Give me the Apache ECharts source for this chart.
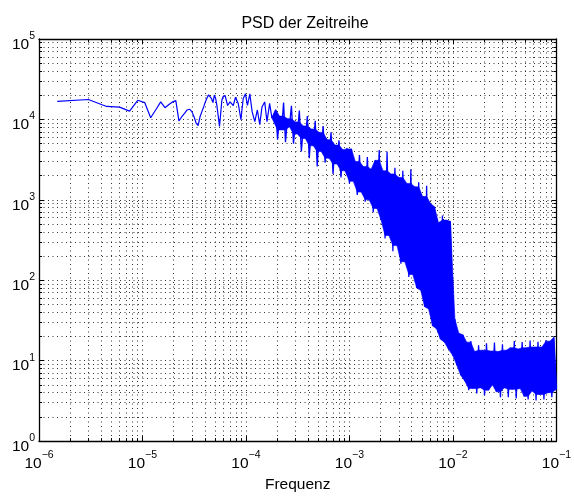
<!DOCTYPE html>
<html>
<head>
<meta charset="utf-8">
<title>PSD der Zeitreihe</title>
<script src="https://cdn.jsdelivr.net/npm/echarts@6/dist/echarts.min.js"></script>
<style>
  html, body { margin: 0; padding: 0; background: #ffffff; }
  #chart { width: 574px; height: 498px; }
</style>
</head>
<body>
<div id="chart"></div>
<script>
// Axis decades (exponents of ten shown as tick labels)
const xTickExponents = [-6, -5, -4, -3, -2, -1];
const yTickExponents = [0, 1, 2, 3, 4, 5];

// Low-frequency part of the spectrum: individual bins
const lowFreq = [
  1.5e-6, 3.0e-6, 4.5e-6, 6.0e-6, 7.5e-6, 9.0e-6, 1.05e-5, 1.2e-5, 1.35e-5, 1.5e-5,
  1.65e-5, 1.8e-5, 1.95e-5, 2.1e-5, 2.25e-5, 2.4e-5, 2.55e-5, 2.7e-5, 2.85e-5, 3.0e-5,
  3.15e-5, 3.3e-5, 3.45e-5, 3.6e-5, 3.75e-5, 3.9e-5, 4.05e-5, 4.2e-5, 4.35e-5, 4.5e-5,
  4.65e-5, 4.8e-5, 4.95e-5, 5.1e-5, 5.25e-5, 5.4e-5, 5.55e-5, 5.7e-5, 5.85e-5, 6.0e-5,
  6.28e-5, 6.65e-5, 7.01e-5, 7.54e-5, 7.93e-5, 8.42e-5, 8.94e-5, 9.40e-5, 9.89e-5, 1.034e-4,
  1.090e-4, 1.147e-4, 1.217e-4, 1.289e-4, 1.359e-4, 1.429e-4, 1.517e-4, 1.596e-4, 1.694e-4, 1.782e-4
];
const lowPsd = [
  16800, 17700, 14500, 14200, 12700, 17300, 16200, 10500, 13300, 16500,
  14000, 15300, 16500, 17100, 9600, 10800, 11900, 13100, 13400, 12500,
  10800, 9000, 8400, 10800, 12500, 14300, 16500, 18500, 20200, 19700,
  18100, 16200, 20100, 18100, 14500, 10900, 8200, 11900, 17300, 19100,
  19900, 14900, 16500, 14900, 18900, 15800, 9900, 18100, 20800, 14900,
  20800, 12500, 9400, 13100, 8600, 14300, 16500, 9400, 15800, 10400
];

// Dense part of the spectrum, 1.9e-4 ... 1e-3
const midFreq = [
  1.94e-4, 2.02e-4, 2.11e-4, 2.21e-4, 2.31e-4, 2.41e-4, 2.52e-4, 2.63e-4, 2.75e-4, 2.88e-4,
  3.01e-4, 3.14e-4, 3.28e-4, 3.43e-4, 3.59e-4, 3.75e-4, 3.92e-4, 4.09e-4, 4.28e-4, 4.47e-4,
  4.67e-4, 4.88e-4, 5.10e-4, 5.33e-4, 5.57e-4, 5.82e-4, 6.08e-4, 6.36e-4, 6.64e-4, 6.94e-4,
  7.25e-4, 7.58e-4, 7.92e-4, 8.28e-4, 8.65e-4, 9.04e-4, 9.45e-4
];
const midPsd = [
  13200, 5600, 11000, 7400, 16200, 5200, 10200, 8100, 14800, 5000,
  9300, 6600, 12900, 4000, 8300, 5800, 11000, 3300, 7600, 4700,
  9600, 2600, 6900, 4000, 8300, 2900, 5600, 3300, 6900, 2100,
  4800, 2800, 5500, 1900, 4200, 2300, 4400
];

// 1e-3 ... 1e-2: steep roll-off ending in the edge just below 1e-2
const highFreq = [
  1.00e-3, 1.045e-3, 1.09e-3, 1.14e-3, 1.19e-3, 1.25e-3, 1.30e-3, 1.36e-3, 1.42e-3, 1.49e-3,
  1.55e-3, 1.62e-3, 1.70e-3, 1.77e-3, 1.85e-3, 1.94e-3, 2.02e-3, 2.11e-3, 2.21e-3, 2.31e-3,
  2.41e-3, 2.52e-3, 2.63e-3, 2.75e-3, 2.88e-3, 3.01e-3, 3.14e-3, 3.28e-3, 3.43e-3, 3.59e-3,
  3.75e-3, 3.92e-3, 4.09e-3, 4.28e-3, 4.47e-3, 4.67e-3, 4.88e-3, 5.10e-3, 5.33e-3, 5.57e-3,
  5.82e-3, 6.08e-3, 6.36e-3, 6.64e-3, 6.94e-3, 7.25e-3, 7.58e-3, 7.92e-3, 8.28e-3, 8.65e-3,
  9.04e-3, 9.45e-3
];
const highPsd = [
  1600, 4300, 1700, 3000, 1150, 3600, 1250, 2600, 950, 3400,
  1000, 2400, 700, 3100, 780, 4170, 560, 2300, 330, 3980,
  360, 2100, 230, 2500, 270, 1900, 160, 2300, 170, 1600,
  110, 2400, 118, 1450, 80, 1650, 75, 1100, 47, 1500,
  44, 900, 27, 820, 25, 520, 18.5, 640, 17, 560,
  14, 540
];

// 1e-2 ... 1e-1: noise floor
const floorFreq = [
  1.00e-2, 1.045e-2, 1.09e-2, 1.14e-2, 1.19e-2, 1.25e-2, 1.30e-2, 1.36e-2, 1.42e-2, 1.49e-2,
  1.55e-2, 1.62e-2, 1.70e-2, 1.77e-2, 1.85e-2, 1.94e-2, 2.02e-2, 2.11e-2, 2.21e-2, 2.31e-2,
  2.41e-2, 2.52e-2, 2.63e-2, 2.75e-2, 2.88e-2, 3.01e-2, 3.14e-2, 3.28e-2, 3.43e-2, 3.59e-2,
  3.75e-2, 3.92e-2, 4.09e-2, 4.28e-2, 4.47e-2, 4.67e-2, 4.88e-2, 5.10e-2, 5.33e-2, 5.57e-2,
  5.82e-2, 6.08e-2, 6.36e-2, 6.64e-2, 6.94e-2, 7.25e-2, 7.58e-2, 7.92e-2, 8.28e-2, 8.65e-2,
  9.04e-2, 9.45e-2, 1.00e-1
];
const floorPsd = [
  11.5, 33, 8.8, 22, 6.6, 21, 5.6, 17, 4.3, 17.5,
  4.5, 13.0, 3.9, 15.5, 4.6, 13.5, 3.7, 16.5, 4.3, 13.2,
  5.0, 16.8, 4.1, 13.0, 3.5, 16.0, 4.6, 13.5, 3.5, 14.5,
  4.4, 17.5, 3.4, 14.0, 4.5, 17.0, 3.6, 14.5, 3.3, 17.8,
  4.2, 14.8, 3.2, 17.2, 3.8, 14.8, 3.3, 18.0, 4.0, 17.5,
  3.5, 19.5, 4.4
];

const FONT = 'Liberation Sans, Arial, Helvetica, sans-serif';
const BLUE = '#0000ff';

function pairs(fs, ps) { return fs.map((f, i) => [f, ps[i]]); }

const sparseData = pairs(lowFreq, lowPsd);
const denseData = [sparseData[sparseData.length - 1]]
  .concat(pairs(midFreq, midPsd), pairs(highFreq, highPsd), pairs(floorFreq, floorPsd));

// Solid core of the dense band, outlined by the peaks and troughs of the
// dense trace. Each peak is limited to the median of itself and its two
// neighbouring peaks (troughs likewise), so single spikes stay visible as
// thin lines sticking out of the band.
function median3(a, b, c) { return Math.max(Math.min(a, b), Math.min(Math.max(a, b), c)); }
function bandOutline(points) {
  const peaks = [], troughs = [];
  for (let i = 0; i < points.length; i++) {
    const v = points[i][1];
    const prev = i > 0 ? points[i - 1][1] : null;
    const next = i < points.length - 1 ? points[i + 1][1] : null;
    const isPeak = (prev === null || v >= prev) && (next === null || v >= next);
    (isPeak ? peaks : troughs).push(points[i]);
  }
  const trim = (list, clip) => list.map((p, j) => {
    const a = j > 0 ? list[j - 1][1] : p[1];
    const c = j < list.length - 1 ? list[j + 1][1] : p[1];
    return [p[0], clip(p[1], median3(a, p[1], c))];
  });
  const upper = trim(peaks, Math.min);
  const lower = trim(troughs, Math.max);
  return upper.concat(lower.slice().reverse());
}
const bandPoints = bandOutline(denseData);

function powLabel(exps) {
  return function (v) {
    const lv = Math.log10(v);
    const e = exps.find(x => Math.abs(x - lv) < 1e-6);
    return e === undefined ? '' : '{b|10}{e|' + (e < 0 ? '\u2212' + (-e) : e) + '}';
  };
}

const rich = {
  b: { fontSize: 15.5, fontFamily: FONT, color: '#000', lineHeight: 22, verticalAlign: 'bottom' },
  e: { fontSize: 10.5, fontFamily: FONT, color: '#000', lineHeight: 8, verticalAlign: 'top' }
};

const dotted = { color: '#000', width: 1, type: [1, 3.5], opacity: 0.8 };

function logAxis(min, max, position, exps, showLabel, showGrid) {
  return {
    type: 'log',
    logBase: 10,
    min: min,
    max: max,
    position: position,
    axisLine: { show: true, onZero: false, lineStyle: { color: '#000', width: 1.3 } },
    axisTick: { show: true, inside: true, length: 5, lineStyle: { color: '#000', width: 1 } },
    minorTick: { show: true, splitNumber: 9, length: 3, lineStyle: { color: '#000', width: 1 } },
    splitLine: { show: showGrid, lineStyle: dotted },
    minorSplitLine: { show: showGrid, lineStyle: dotted },
    axisLabel: {
      show: showLabel,
      formatter: powLabel(exps),
      rich: rich,
      margin: position === 'bottom' ? 9 : 4,
      padding: position === 'left' ? [5, 0, 0, 0] : 0
    }
  };
}

const xMin = Math.pow(10, xTickExponents[0]);
const xMax = Math.pow(10, xTickExponents[xTickExponents.length - 1]);
const yMin = Math.pow(10, yTickExponents[0]);
const yMax = Math.pow(10, yTickExponents[yTickExponents.length - 1]);

const xBottom = logAxis(xMin, xMax, 'bottom', xTickExponents, true, true);
xBottom.name = 'Frequenz';
xBottom.nameLocation = 'middle';
xBottom.nameGap = 33;
xBottom.nameTextStyle = { fontSize: 15.5, fontFamily: FONT, color: '#000' };

const chart = echarts.init(document.getElementById('chart'), null, { renderer: 'canvas' });
chart.setOption({
  animation: false,
  backgroundColor: '#ffffff',
  title: {
    text: 'PSD der Zeitreihe',
    left: 300,
    textAlign: 'center',
    top: 11,
    textStyle: { fontSize: 16, fontWeight: 'normal', color: '#000', fontFamily: FONT }
  },
  grid: { left: 39, right: 13, top: 39, bottom: 48, containLabel: false },
  xAxis: [
    xBottom,
    logAxis(xMin, xMax, 'top', xTickExponents, false, false)
  ],
  yAxis: [
    logAxis(yMin, yMax, 'left', yTickExponents, true, true),
    logAxis(yMin, yMax, 'right', yTickExponents, false, false)
  ],
  series: [
    {
      name: 'PSD Kern',
      type: 'custom',
      xAxisIndex: 0,
      yAxisIndex: 0,
      silent: true,
      clip: true,
      data: [denseData[0]],
      renderItem: function (params, api) {
        return {
          type: 'polygon',
          shape: { points: bandPoints.map(p => api.coord(p)) },
          style: { fill: BLUE, stroke: BLUE, lineWidth: 0.6 }
        };
      },
      z: 2
    },
    {
      name: 'PSD',
      type: 'line',
      xAxisIndex: 0,
      yAxisIndex: 0,
      data: sparseData,
      showSymbol: false,
      symbol: 'none',
      silent: true,
      lineStyle: { color: BLUE, width: 1.2 },
      z: 3
    },
    {
      name: 'PSD (dicht)',
      type: 'line',
      xAxisIndex: 0,
      yAxisIndex: 0,
      data: denseData,
      showSymbol: false,
      symbol: 'none',
      silent: true,
      lineStyle: { color: BLUE, width: 1.3 },
      z: 3
    }
  ]
});
</script>
</body>
</html>
